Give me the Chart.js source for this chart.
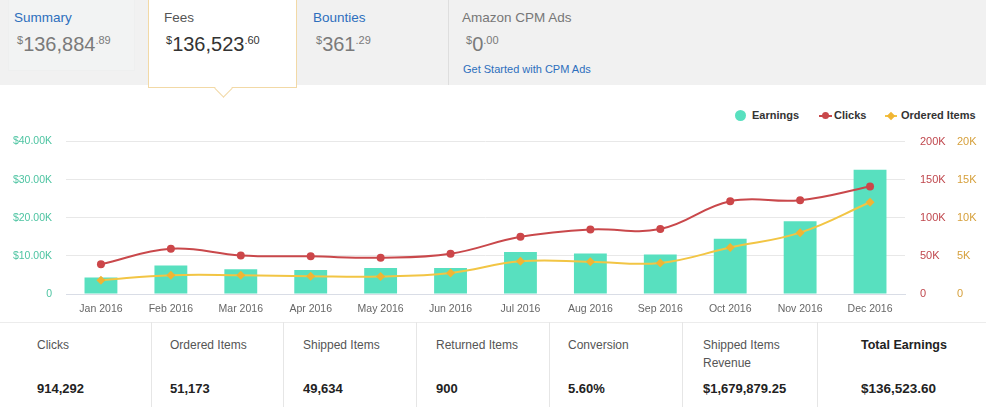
<!DOCTYPE html>
<html>
<head>
<meta charset="utf-8">
<script src="https://cdn.jsdelivr.net/npm/chart.js@4.4.1/dist/chart.umd.min.js"></script>
<style>
  html, body { margin: 0; padding: 0; background: #fff; }
  body { width: 986px; height: 407px; position: relative; overflow: hidden; font-family: "Liberation Sans", Arial, sans-serif; }
  .hdr { position: absolute; left: 0; top: 0; width: 986px; height: 85px; background: #f1f1f1; }
  .sumbox { position: absolute; left: 8px; top: 0; width: 125px; height: 70px; background: #f2f3f3; border: 1px solid #eeefef; border-top: none; }
  .sep { position: absolute; left: 448px; top: 0; width: 1px; height: 85px; background: #dedede; }
  .tab { position: absolute; left: 148px; top: 0; width: 149px; height: 88px; background: #fff; border: 1px solid #f2d9a6; border-top: none; box-sizing: border-box; }
  .notch { position: absolute; left: 217px; top: 82px; width: 12px; height: 12px; background: #fff; border-right: 1px solid #f2d9a6; border-bottom: 1px solid #f2d9a6; transform: rotate(45deg); }
  .t { position: absolute; font-size: 13.5px; white-space: nowrap; }
  .blue { color: #2d6fbd; }
  .amt { position: absolute; font-size: 20px; color: #7a7a7a; white-space: nowrap; line-height: 20px; }
  .amt sup { font-size: 11px; vertical-align: 7px; line-height: 0; }
  .legend { position: absolute; top: 108px; font-size: 11px; font-weight: bold; color: #333; white-space: nowrap; line-height: 14px; }
  .dot { position: absolute; width: 11px; height: 11px; border-radius: 50%; background: #58e0bf; }
  .ln { position: absolute; height: 2px; }
  .pt { position: absolute; width: 7px; height: 7px; border-radius: 50%; }
  .dia { position: absolute; width: 6px; height: 6px; transform: rotate(45deg); }
  #c { position: absolute; left: 0; top: 120px; }
  .stats { position: absolute; left: 0; top: 322px; width: 986px; height: 85px; border-top: 1px solid #ececec; }
  .vs { position: absolute; top: 322px; width: 1px; height: 85px; background: #e6e6e6; }
  .sl { position: absolute; top: 336px; font-size: 12px; color: #555; line-height: 18px; }
  .sv { position: absolute; top: 381px; font-size: 13px; color: #222; font-weight: bold; }
</style>
</head>
<body>
<div class="hdr"></div>
<div class="sumbox"></div>
<div class="sep"></div>
<div class="tab"></div>
<div class="notch"></div>

<div class="t blue" style="left:14px;top:10px;">Summary</div>
<div class="amt" style="left:17px;top:34px;"><sup>$</sup>136,884<sup>.89</sup></div>
<div class="t" style="left:164px;top:10px;color:#555;">Fees</div>
<div class="amt" style="left:166px;top:34px;color:#333;"><sup>$</sup>136,523<sup>.60</sup></div>
<div class="t blue" style="left:313px;top:10px;">Bounties</div>
<div class="amt" style="left:316px;top:34px;"><sup>$</sup>361<sup>.29</sup></div>
<div class="t" style="left:462px;top:10px;color:#777;">Amazon CPM Ads</div>
<div class="amt" style="left:466px;top:34px;"><sup>$</sup>0<sup>.00</sup></div>
<div class="t blue" style="left:463px;top:63px;font-size:11px;">Get Started with CPM Ads</div>

<div class="dot" style="left:735px;top:110px;"></div>
<div class="legend" style="left:752px;">Earnings</div>
<div class="ln" style="left:819px;top:115px;width:13px;background:#c9484b;"></div>
<div class="pt" style="left:822px;top:112px;background:#c9484b;"></div>
<div class="legend" style="left:834px;">Clicks</div>
<div class="ln" style="left:885px;top:115px;width:12px;background:#f2c544;"></div>
<div class="dia" style="left:888px;top:113px;background:#f0b534;"></div>
<div class="legend" style="left:901px;">Ordered Items</div>

<canvas id="c" width="986" height="202"></canvas>

<div class="stats"></div>
<div class="vs" style="left:151px;"></div>
<div class="vs" style="left:283px;"></div>
<div class="vs" style="left:416px;"></div>
<div class="vs" style="left:549px;"></div>
<div class="vs" style="left:682px;"></div>
<div class="vs" style="left:817px;"></div>
<div class="sl" style="left:37px;">Clicks</div>
<div class="sv" style="left:37px;">914,292</div>
<div class="sl" style="left:170px;">Ordered Items</div>
<div class="sv" style="left:170px;">51,173</div>
<div class="sl" style="left:303px;">Shipped Items</div>
<div class="sv" style="left:303px;">49,634</div>
<div class="sl" style="left:436px;">Returned Items</div>
<div class="sv" style="left:436px;">900</div>
<div class="sl" style="left:568px;">Conversion</div>
<div class="sv" style="left:568px;">5.60%</div>
<div class="sl" style="left:703px;">Shipped Items<br>Revenue</div>
<div class="sv" style="left:703px;">$1,679,879.25</div>
<div class="sl" style="left:861px;font-weight:bold;color:#222;font-size:12.5px;">Total Earnings</div>
<div class="sv" style="left:861px;font-size:13.5px;">$136,523.60</div>

<script>
const months = ["Jan 2016","Feb 2016","Mar 2016","Apr 2016","May 2016","Jun 2016","Jul 2016","Aug 2016","Sep 2016","Oct 2016","Nov 2016","Dec 2016"];
const earnings = [4300, 7500, 6500, 6300, 6800, 6800, 11000, 10600, 10400, 14500, 19100, 32600];
const clicks = [39000, 59300, 50600, 49400, 47600, 52800, 75000, 84800, 85300, 121700, 123000, 141000];
const orderedItems = [1820, 2470, 2470, 2340, 2300, 2770, 4290, 4240, 4070, 6100, 8050, 12040];
const earningsTicks = [0, 10000, 20000, 30000, 40000];
const clicksTicks = [0, 50000, 100000, 150000, 200000];
const ordersTicks = [0, 5000, 10000, 15000, 20000];

const fontFam = '"Liberation Sans", Arial, sans-serif';
const kfmt = v => v === 0 ? '0' : (v / 1000) + 'K';

new Chart(document.getElementById('c'), {
  type: 'bar',
  data: {
    labels: months,
    datasets: [
      {
        type: 'line', label: 'Clicks', data: clicks, yAxisID: 'yClicks', order: 1,
        borderColor: '#c9484b', backgroundColor: '#cc4649', borderWidth: 2,
        pointRadius: 4, pointBorderWidth: 0, pointBackgroundColor: '#cc4649',
        tension: 0.4, fill: false
      },
      {
        type: 'line', label: 'Ordered Items', data: orderedItems, yAxisID: 'yOrders', order: 2,
        borderColor: '#f2c544', backgroundColor: '#f0b534', borderWidth: 2,
        pointStyle: 'rectRot', pointRadius: 4.5, pointBorderWidth: 0, pointBackgroundColor: '#f0b534',
        tension: 0.4, fill: false
      },
      {
        type: 'bar', label: 'Earnings', data: earnings, yAxisID: 'yEarn', order: 3,
        backgroundColor: '#58e0bf', borderWidth: 0,
        barPercentage: 0.47, categoryPercentage: 1
      }
    ]
  },
  options: {
    responsive: false,
    animation: false,
    layout: { padding: { top: 12, left: 0, right: 0, bottom: 0 } },
    plugins: { legend: { display: false }, tooltip: { enabled: false } },
    scales: {
      x: {
        offset: true,
        grid: { display: false, drawTicks: false },
        border: { display: true, color: '#d9dde6', width: 1 },
        ticks: { color: '#666', font: { family: fontFam, size: 10.5 }, padding: 9, maxRotation: 0, autoSkip: false },
        afterFit: s => { s.height = 28; }
      },
      yEarn: {
        position: 'left', min: 0, max: 40000,
        afterBuildTicks: s => { s.ticks = earningsTicks.map(v => ({ value: v })); },
        grid: { color: '#e8e8e8', drawTicks: false },
        border: { display: false },
        ticks: {
          color: '#4ec4a2', font: { family: fontFam, size: 10.5 }, padding: 14,
          callback: v => v === 0 ? '0' : '$' + (v / 1000).toFixed(2) + 'K'
        },
        afterFit: s => { s.width = 66; }
      },
      yClicks: {
        position: 'right', min: 0, max: 200000,
        afterBuildTicks: s => { s.ticks = clicksTicks.map(v => ({ value: v })); },
        grid: { display: false, drawTicks: false },
        border: { display: false },
        ticks: { color: '#c0484e', font: { family: fontFam, size: 11 }, padding: 15, callback: kfmt },
        afterFit: s => { s.width = 48; }
      },
      yOrders: {
        position: 'right', min: 0, max: 20000,
        afterBuildTicks: s => { s.ticks = ordersTicks.map(v => ({ value: v })); },
        grid: { display: false, drawTicks: false },
        border: { display: false },
        ticks: { color: '#d6a03c', font: { family: fontFam, size: 11 }, padding: 4, callback: kfmt },
        afterFit: s => { s.width = 33; }
      }
    }
  }
});
</script>
</body>
</html>
